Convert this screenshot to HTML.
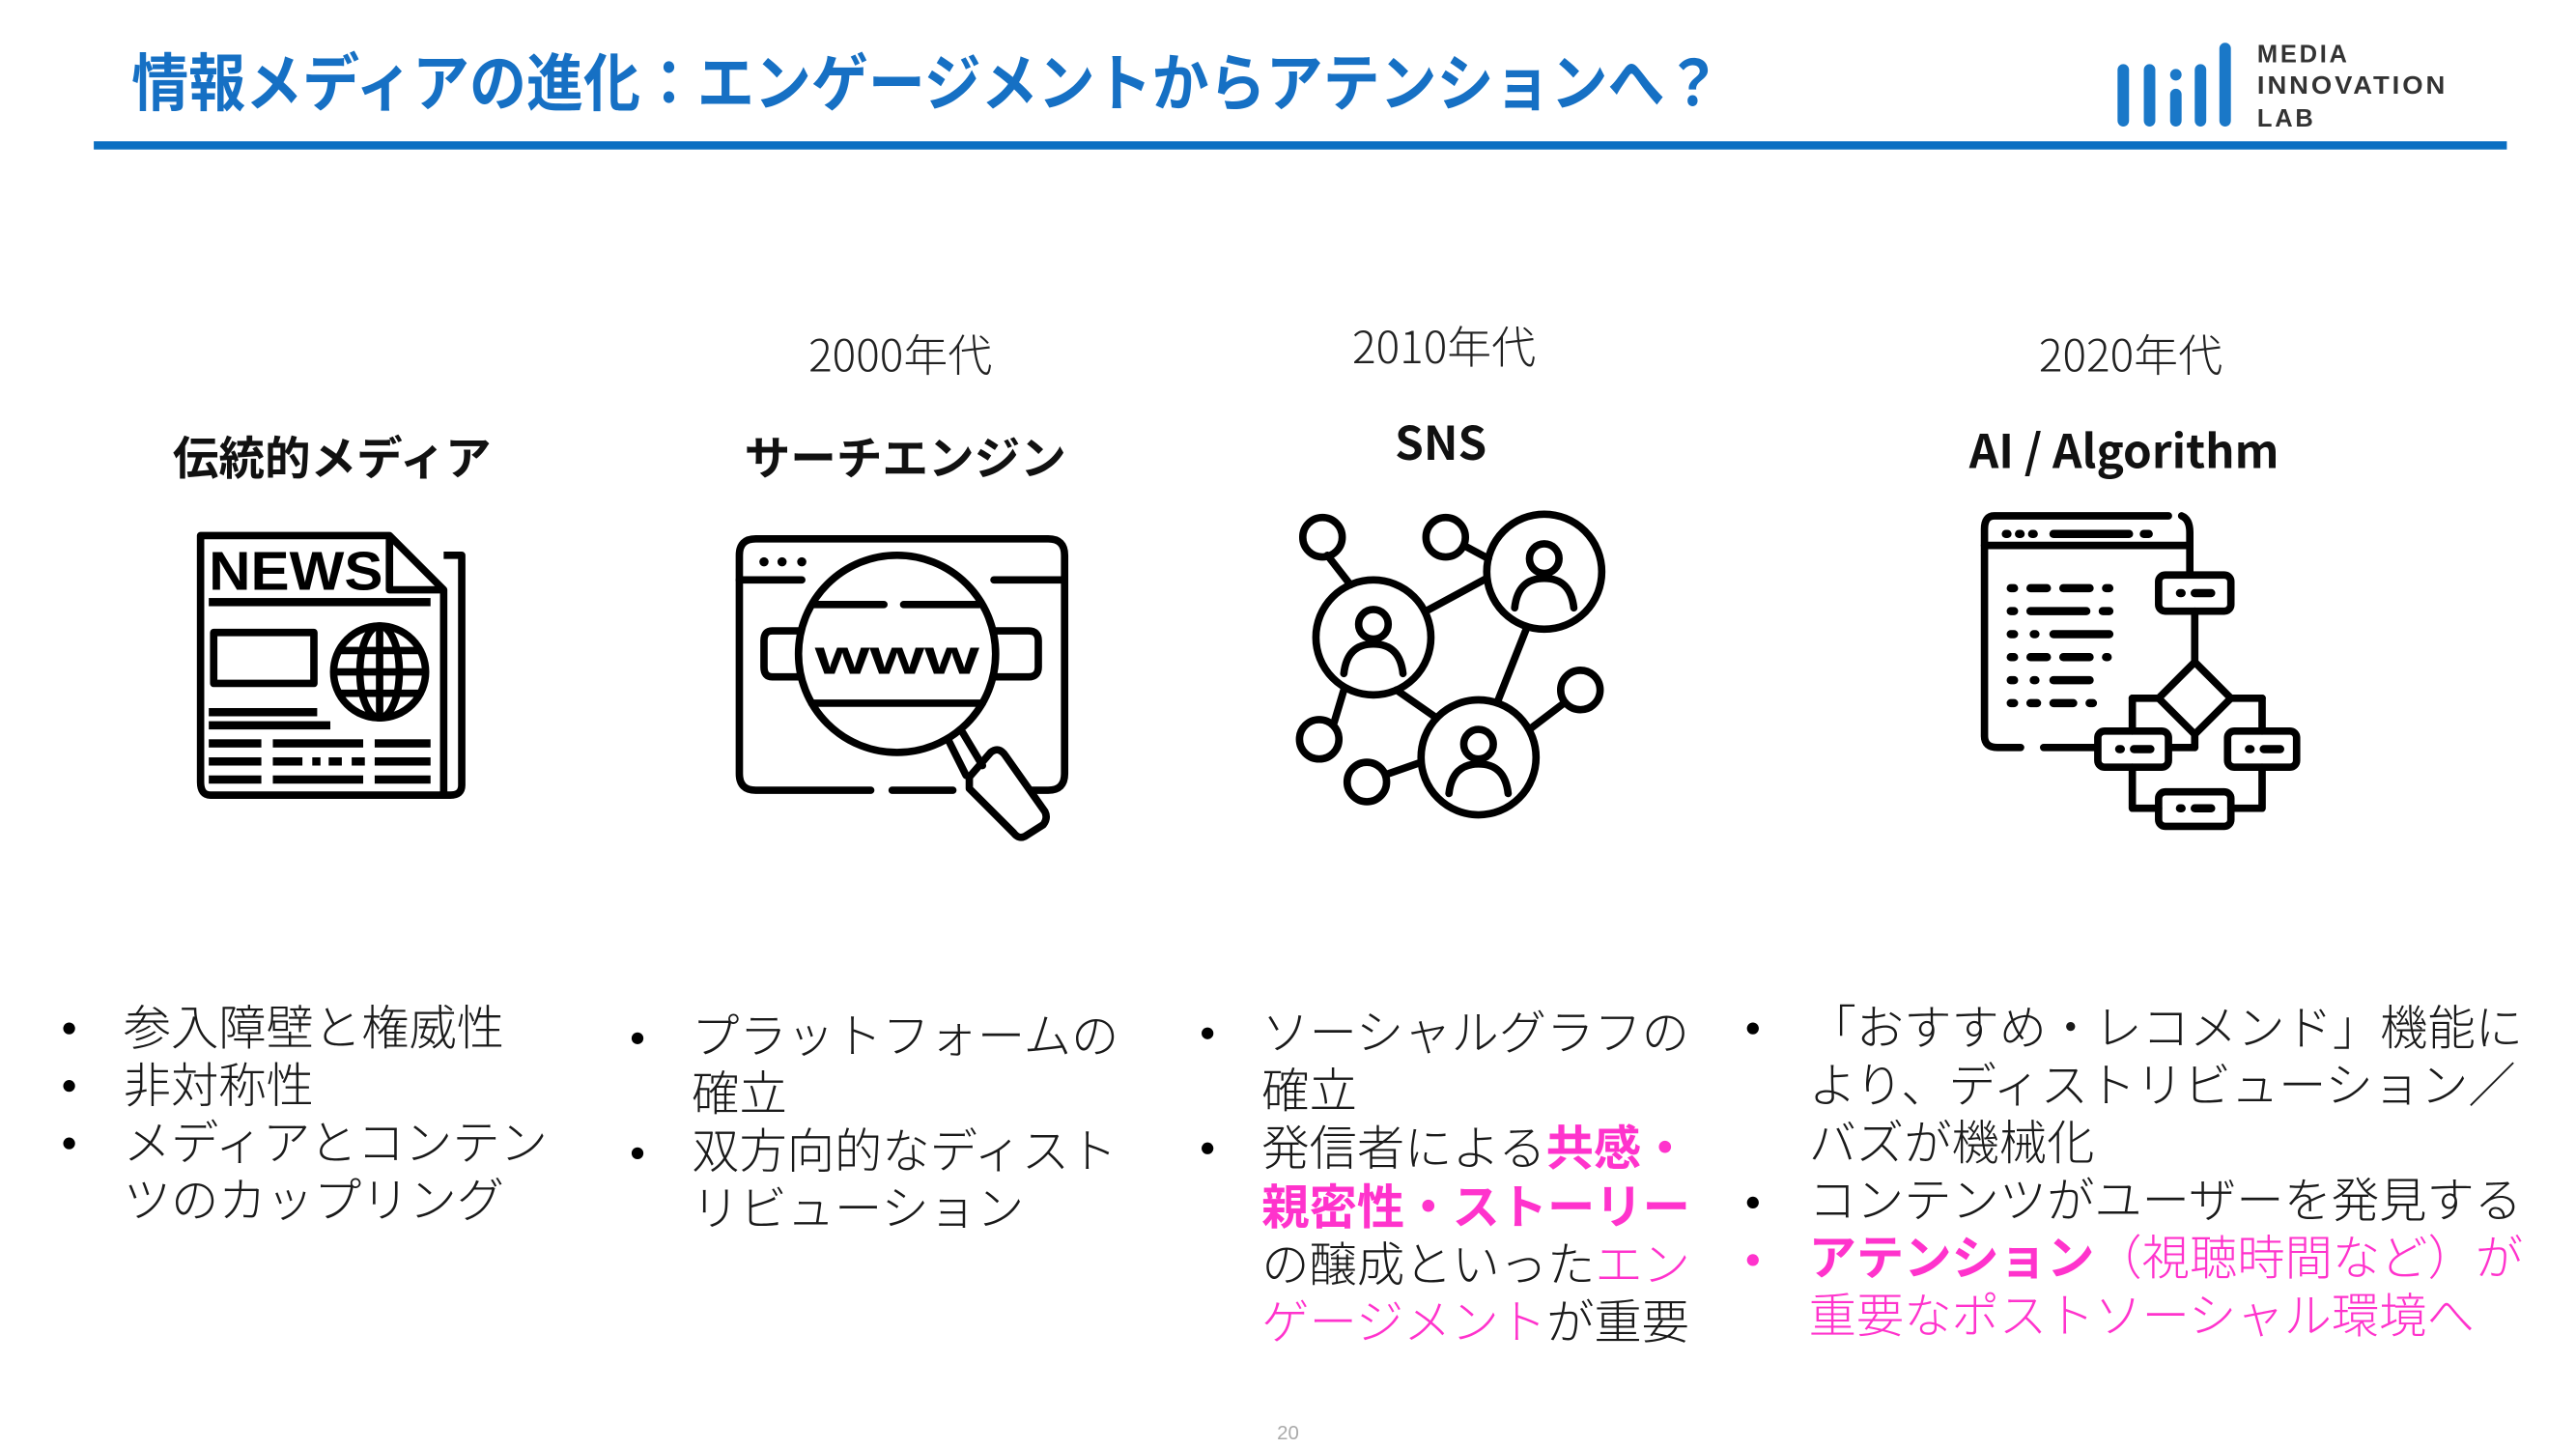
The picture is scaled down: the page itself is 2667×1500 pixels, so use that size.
<!DOCTYPE html>
<html><head><meta charset="utf-8"><style>
html,body{margin:0;padding:0;background:#fff;}
svg{display:block;}
text{font-family:"Liberation Sans","Noto Sans CJK JP",sans-serif;}
.b{font-size:29px;fill:#1a1a1a;font-weight:300;}
.p{fill:#ff33cc;}
.pb{fill:#ff33cc;font-weight:700;}
.yr{font-size:27px;fill:#222;text-anchor:middle;font-weight:300;font-family:"Noto Sans CJK JP",sans-serif;}
.lb{font-size:28px;fill:#111;text-anchor:middle;font-weight:700;font-family:"Noto Sans CJK JP",sans-serif;}
</style></head><body>
<svg width="2667" height="1500" viewBox="0 0 1568 882" xmlns="http://www.w3.org/2000/svg">
<rect width="1568" height="882" fill="#fff"/>
<text x="80" y="64" font-size="38" font-weight="700" fill="#1670c4" textLength="968" lengthAdjust="spacingAndGlyphs">情報メディアの進化：エンゲージメントからアテンションへ？</text>
<rect x="57" y="86" width="1469" height="5" fill="#0b6fc2"/>
<g fill="#1a78c8">
<rect x="1289" y="39" width="7" height="38" rx="3.5"/>
<rect x="1305" y="39" width="7" height="38" rx="3.5"/>
<rect x="1321" y="54" width="7" height="23" rx="3.5"/>
<rect x="1321" y="42" width="7" height="7" rx="3.5"/>
<rect x="1336" y="39" width="7" height="38" rx="3.5"/>
<rect x="1351" y="26" width="7" height="51" rx="3.5"/>
</g>
<g font-size="15" font-weight="700" fill="#333" letter-spacing="1.6">
<text x="1374" y="38">MEDIA</text>
<text x="1374" y="57" textLength="116" lengthAdjust="spacingAndGlyphs">INNOVATION</text>
<text x="1374" y="77">LAB</text>
</g>
<text class="yr" x="548" y="226">2000年代</text>
<text class="yr" x="879" y="221">2010年代</text>
<text class="yr" x="1297" y="226">2020年代</text>
<text class="lb" x="202" y="289">伝統的メディア</text>
<text class="lb" x="551" y="289">サーチエンジン</text>
<text class="lb" x="877" y="280">SNS</text>
<text class="lb" x="1293" y="285">AI / Algorithm</text>

<g fill="none" stroke="#000" stroke-width="4.5" stroke-linejoin="round">
<path d="M122,326 H237 L270,359 V484 H128 Q122,484 122,476 Z"/>
<path d="M237,326 V359 H270"/>
<path d="M270,338 H281 V478 Q281,484 274,484 H270"/>
<rect x="130" y="385" width="61" height="31"/>
<circle cx="231" cy="409" r="28"/>
<ellipse cx="231" cy="409" rx="12" ry="28"/>
<line x1="231" y1="381" x2="231" y2="437"/>
<line x1="205" y1="396" x2="257" y2="396"/>
<line x1="203" y1="409" x2="259" y2="409"/>
<line x1="205" y1="422" x2="257" y2="422"/>
</g>
<text x="127" y="359" font-size="33" font-weight="700" fill="#000" textLength="106" lengthAdjust="spacingAndGlyphs">NEWS</text>
<g fill="#000">
<rect x="127" y="364" width="135" height="5"/>
<rect x="127" y="431" width="66" height="5"/>
<rect x="127" y="439" width="74" height="5"/>
<rect x="127" y="450" width="32" height="5"/><rect x="166" y="450" width="55" height="5"/><rect x="228" y="450" width="34" height="5"/>
<rect x="127" y="461" width="32" height="5"/><rect x="166" y="461" width="18" height="5"/><rect x="190" y="461" width="5" height="5"/><rect x="200" y="461" width="8" height="5"/><rect x="214" y="461" width="8" height="5"/><rect x="228" y="461" width="34" height="5"/>
<rect x="127" y="472" width="32" height="5"/><rect x="166" y="472" width="55" height="5"/><rect x="228" y="472" width="34" height="5"/>
</g>

<g fill="none" stroke="#000" stroke-width="4.5" stroke-linecap="round" stroke-linejoin="round">
<path d="M530,481 H460 Q450,481 450,471 V338 Q450,328 460,328 H638 Q648,328 648,338 V471 Q648,481 638,481 H628"/>
<path d="M543,481 H580"/>
<line x1="450" y1="353" x2="488" y2="353"/><line x1="605" y1="353" x2="648" y2="353"/>
<circle cx="546" cy="398" r="60"/>
<path d="M486,384 H470 Q465,384 465,390 V406 Q465,412 470,412 H486"/>
<path d="M606,384 H626 Q632,384 632,390 V406 Q632,412 626,412 H606"/>
<line x1="495" y1="368" x2="538" y2="368"/><line x1="550" y1="368" x2="596" y2="368"/>
<line x1="494" y1="428" x2="598" y2="428"/>
<line x1="577" y1="450" x2="588" y2="472"/><line x1="586" y1="446" x2="598" y2="466"/>
<path d="M590,473 L603,458 Q608,454 612,460 L636,494 Q638,498 635,502 L624,509 Q620,511 617,507 L590,480 Z"/>
</g>
<g fill="#000"><circle cx="465" cy="342" r="2.8"/><circle cx="476" cy="342" r="2.8"/><circle cx="488" cy="342" r="2.8"/></g>
<text x="546" y="410" font-size="30" font-weight="700" fill="#000" text-anchor="middle" textLength="100" lengthAdjust="spacingAndGlyphs">www</text>

<g fill="none" stroke="#000" stroke-width="4.5" stroke-linecap="round">
<line x1="808" y1="338" x2="822" y2="356"/>
<line x1="891" y1="332" x2="906" y2="340"/>
<line x1="868" y1="372" x2="905" y2="352"/>
<line x1="929" y1="383" x2="912" y2="426"/>
<line x1="850" y1="420" x2="873" y2="436"/>
<line x1="812" y1="440" x2="818" y2="420"/>
<line x1="845" y1="471" x2="865" y2="464"/>
<line x1="931" y1="444" x2="952" y2="428"/>
<circle cx="836" cy="388" r="35"/>
<circle cx="940" cy="348" r="35"/>
<circle cx="900" cy="461" r="35"/>
<circle cx="805" cy="327" r="12"/>
<circle cx="880" cy="327" r="12"/>
<circle cx="803" cy="450" r="12"/>
<circle cx="832" cy="476" r="12"/>
<circle cx="962" cy="420" r="12"/>
<circle cx="836" cy="380" r="9"/><path d="M818,410 Q820,392 836,392 Q852,392 854,410"/>
<circle cx="940" cy="340" r="9"/><path d="M922,370 Q924,352 940,352 Q956,352 958,370"/>
<circle cx="900" cy="453" r="9"/><path d="M882,483 Q884,465 900,465 Q916,465 918,483"/>
</g>

<g fill="none" stroke="#000" stroke-width="4.5" stroke-linecap="round" stroke-linejoin="round">
<path d="M1320,314 H1214 Q1208,314 1208,322 V448 Q1208,455 1216,455 H1230"/>
<path d="M1328,314 Q1333,316 1333,324 V348"/>
<line x1="1244" y1="455" x2="1276" y2="455"/>
<line x1="1208" y1="332" x2="1333" y2="332"/>
<rect x="1314" y="350" width="44" height="22" rx="4"/>
<line x1="1336" y1="372" x2="1336" y2="403"/>
<path d="M1336,403 L1358,425 L1336,447 L1314,425 Z"/>
<line x1="1314" y1="425" x2="1298" y2="425"/><line x1="1298" y1="425" x2="1298" y2="445"/>
<line x1="1358" y1="425" x2="1377" y2="425"/><line x1="1377" y1="425" x2="1377" y2="445"/>
<line x1="1336" y1="447" x2="1336" y2="455"/><line x1="1336" y1="455" x2="1322" y2="455"/>
<rect x="1277" y="445" width="43" height="22" rx="4"/>
<rect x="1356" y="445" width="42" height="22" rx="4"/>
<rect x="1314" y="482" width="44" height="21" rx="4"/>
<path d="M1298,467 V492 H1314"/><path d="M1377,467 V492 H1358"/>
</g>
<g stroke="#000" stroke-width="5" stroke-linecap="round">
<line x1="1221" y1="325" x2="1222" y2="325"/><line x1="1229" y1="325" x2="1230" y2="325"/><line x1="1237" y1="325" x2="1238" y2="325"/>
<line x1="1250" y1="325" x2="1296" y2="325"/><line x1="1305" y1="325" x2="1308" y2="325"/>
<line x1="1224" y1="358" x2="1226" y2="358"/><line x1="1236" y1="358" x2="1246" y2="358"/><line x1="1256" y1="358" x2="1272" y2="358"/><line x1="1282" y1="358" x2="1284" y2="358"/>
<line x1="1224" y1="372" x2="1226" y2="372"/><line x1="1236" y1="372" x2="1270" y2="372"/><line x1="1280" y1="372" x2="1284" y2="372"/>
<line x1="1224" y1="386" x2="1226" y2="386"/><line x1="1238" y1="386" x2="1239" y2="386"/><line x1="1250" y1="386" x2="1284" y2="386"/>
<line x1="1224" y1="400" x2="1226" y2="400"/><line x1="1236" y1="400" x2="1246" y2="400"/><line x1="1256" y1="400" x2="1272" y2="400"/><line x1="1282" y1="400" x2="1283" y2="400"/>
<line x1="1224" y1="414" x2="1226" y2="414"/><line x1="1238" y1="414" x2="1239" y2="414"/><line x1="1250" y1="414" x2="1272" y2="414"/>
<line x1="1224" y1="428" x2="1226" y2="428"/><line x1="1236" y1="428" x2="1240" y2="428"/><line x1="1250" y1="428" x2="1262" y2="428"/><line x1="1272" y1="428" x2="1274" y2="428"/>
<line x1="1327" y1="361" x2="1328" y2="361"/><line x1="1336" y1="361" x2="1346" y2="361"/>
<line x1="1290" y1="456" x2="1291" y2="456"/><line x1="1299" y1="456" x2="1309" y2="456"/>
<line x1="1369" y1="456" x2="1370" y2="456"/><line x1="1378" y1="456" x2="1388" y2="456"/>
<line x1="1327" y1="492" x2="1328" y2="492"/><line x1="1336" y1="492" x2="1346" y2="492"/>
</g>

<g fill="#000">
<circle cx="42" cy="626" r="3.6"/><circle cx="42" cy="661" r="3.6"/><circle cx="42" cy="696" r="3.6"/>
<circle cx="388" cy="632" r="3.6"/><circle cx="388" cy="702" r="3.6"/>
<circle cx="735" cy="629" r="3.6"/><circle cx="735" cy="699" r="3.6"/>
<circle cx="1067" cy="626" r="3.6"/><circle cx="1067" cy="732" r="3.6"/>
</g>
<circle cx="1067" cy="767" r="3.6" fill="#ff33cc"/>

<text class="b" x="75" y="636">参入障壁と権威性</text>
<text class="b" x="75" y="671">非対称性</text>
<text class="b" x="75" y="706">メディアとコンテン</text>
<text class="b" x="75" y="741">ツのカップリング</text>

<text class="b" x="421" y="641">プラットフォームの</text>
<text class="b" x="421" y="676">確立</text>
<text class="b" x="421" y="711">双方向的なディスト</text>
<text class="b" x="421" y="746">リビューション</text>

<text class="b" x="768" y="639">ソーシャルグラフの</text>
<text class="b" x="768" y="674">確立</text>
<text class="b" x="768" y="709">発信者による<tspan class="pb">共感・</tspan></text>
<text class="b" x="768" y="745"><tspan class="pb">親密性・ストーリー</tspan></text>
<text class="b" x="768" y="780">の醸成といった<tspan class="p">エン</tspan></text>
<text class="b" x="768" y="815"><tspan class="p">ゲージメント</tspan>が重要</text>

<text class="b" x="1101" y="636">「おすすめ・レコメンド」機能に</text>
<text class="b" x="1101" y="671">より、ディストリビューション／</text>
<text class="b" x="1101" y="706">バズが機械化</text>
<text class="b" x="1101" y="741">コンテンツがユーザーを発見する</text>
<text class="b p" x="1101" y="776"><tspan class="pb">アテンション</tspan>（視聴時間など）が</text>
<text class="b p" x="1101" y="811">重要なポストソーシャル環境へ</text>

<text x="784" y="876" font-size="12" fill="#aaa" text-anchor="middle">20</text>
</svg>
</body></html>
